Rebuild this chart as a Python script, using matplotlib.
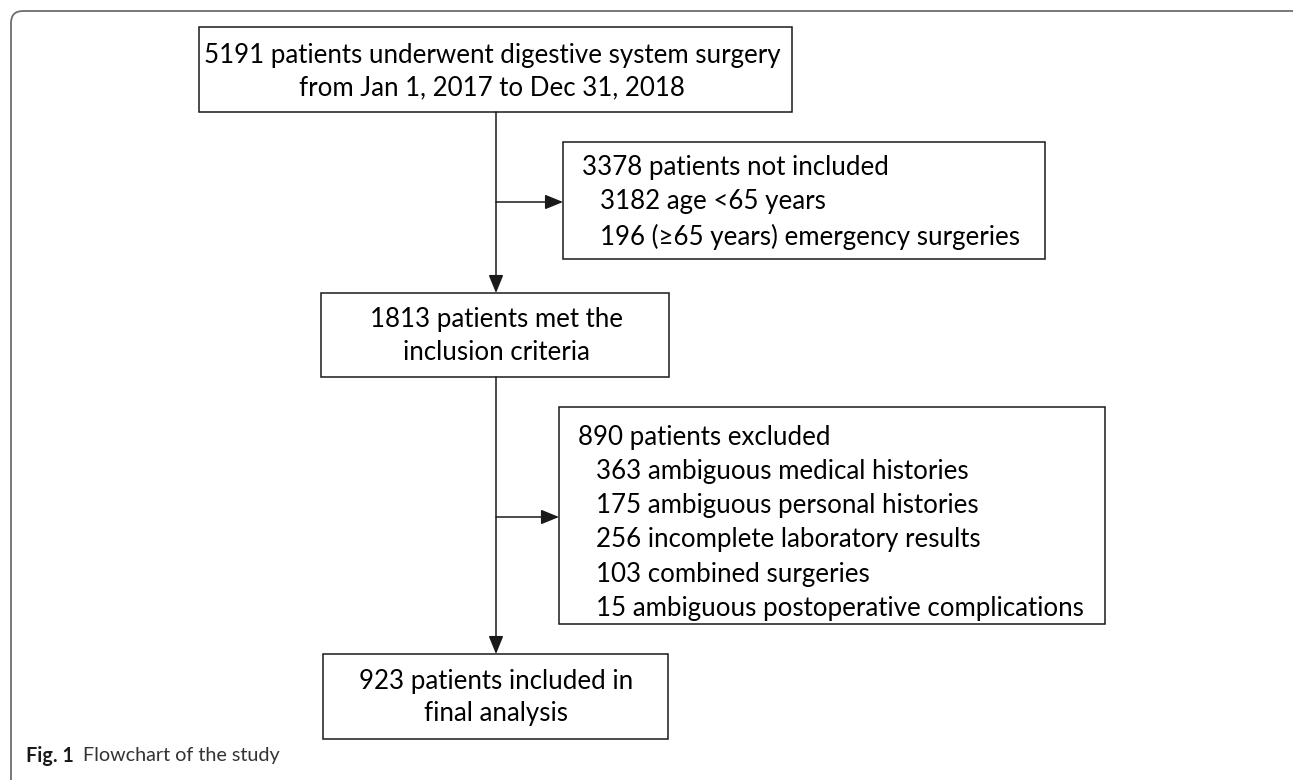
import matplotlib
matplotlib.use("Agg")
import matplotlib.pyplot as plt
from matplotlib.patches import Rectangle, FancyBboxPatch

plt.rcParams['font.family'] = ['Lato', 'DejaVu Sans']

# ---- content ----
box1_lines = ["5191 patients underwent digestive system surgery",
              "from Jan 1, 2017 to Dec 31, 2018"]
box2_title = "3378 patients not included"
box2_items = ["3182 age <65 years",
              "196 (\u226565 years) emergency surgeries"]
box3_lines = ["1813 patients met the", "inclusion criteria"]
box4_title = "890 patients excluded"
box4_items = ["363 ambiguous medical histories",
              "175 ambiguous personal histories",
              "256 incomplete laboratory results",
              "103 combined surgeries",
              "15 ambiguous postoperative complications"]
box5_lines = ["923 patients included in", "final analysis"]
caption_bold = "Fig. 1"
caption_text = "Flowchart of the study"

W, H = 1293, 780
fig = plt.figure(figsize=(W / 100, H / 100), dpi=100)
ax = fig.add_axes([0, 0, 1, 1])
ax.set_xlim(0, W)
ax.set_ylim(H, 0)
ax.axis('off')

FS = 18.6
LC = '#1a1a1a'

# outer rounded frame
ax.add_patch(FancyBboxPatch((11, 11), 1300, 800,
                            boxstyle="round,pad=0,rounding_size=12",
                            fill=False, ec='#6e6e6e', lw=1.3))

def box(x0, y0, x1, y1):
    ax.add_patch(Rectangle((x0, y0), x1 - x0, y1 - y0, fill=False,
                           ec=LC, lw=1.1))

# boxes
box(199, 27, 792, 112)
box(563, 142, 1045, 259)
box(321, 293, 669, 377)
box(559, 407, 1105, 624)
box(323, 654, 668, 739)

# box texts
for i, t in enumerate(box1_lines):
    ax.text(492, 55 + i * 33, t, ha='center', va='center', fontsize=FS, color='black')
ax.text(582, 168, box2_title, ha='left', va='center', fontsize=FS, color='black')
for i, t in enumerate(box2_items):
    ax.text(600, 202 + i * 35, t, ha='left', va='center', fontsize=FS, color='black')
for i, t in enumerate(box3_lines):
    ax.text(496, 320 + i * 33, t, ha='center', va='center', fontsize=FS, color='black')
ax.text(578, 437, box4_title, ha='left', va='center', fontsize=FS, color='black')
for i, t in enumerate(box4_items):
    ax.text(596, 471 + i * 34.4, t, ha='left', va='center', fontsize=FS, color='black')
for i, t in enumerate(box5_lines):
    ax.text(496, 681 + i * 32, t, ha='center', va='center', fontsize=FS, color='black')

# connectors
arrow_kw = dict(arrowstyle='-|>,head_length=1.1,head_width=0.45', color=LC, lw=1.1,
                shrinkA=0, shrinkB=0)
ax.annotate('', xy=(496, 293), xytext=(496, 112), arrowprops=arrow_kw)
ax.annotate('', xy=(563, 202), xytext=(496, 202), arrowprops=arrow_kw)
ax.annotate('', xy=(496, 654), xytext=(496, 377), arrowprops=arrow_kw)
ax.annotate('', xy=(559, 517), xytext=(496, 517), arrowprops=arrow_kw)

# caption
t1 = ax.text(26, 756, caption_bold, ha='left', va='center', fontsize=14.2,
             fontweight='bold', color='#1a1a1a')
fig.canvas.draw()
bb = t1.get_window_extent()
x_end = ax.transData.inverted().transform((bb.x1, bb.y0))[0]
ax.text(x_end + 9, 756, caption_text, ha='left', va='center', fontsize=14.2,
        color='#333333')

fig.savefig('out.png', dpi=100)
